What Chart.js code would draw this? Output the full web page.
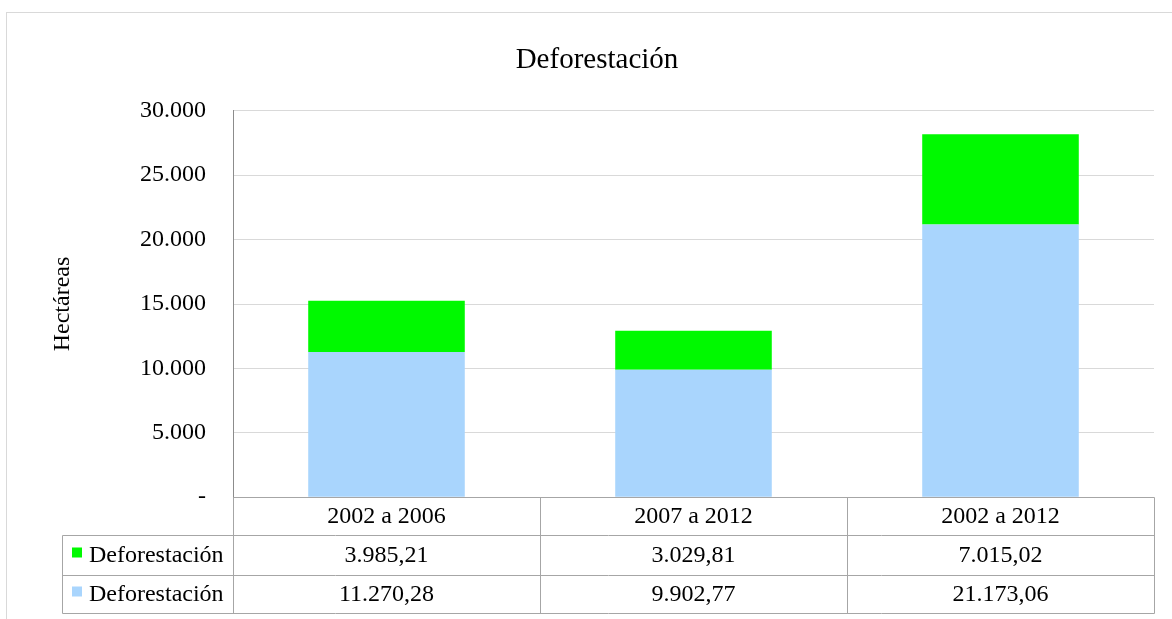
<!DOCTYPE html>
<html>
<head>
<meta charset="utf-8">
<script src="https://cdn.jsdelivr.net/npm/chart.js"></script>
<style>
  body { margin: 0; background: #fff; }
  canvas { display: block; }
</style>
</head>
<body>
<canvas id="deforestChart" width="1172" height="619"></canvas>
<script>
const periods = ["2002 a 2006", "2007 a 2012", "2002 a 2012"];
const seriesName = "Deforestación";
const blueValues = [11270.28, 9902.77, 21173.06];
const greenValues = [3985.21, 3029.81, 7015.02];
const yTicks = [0, 5000, 10000, 15000, 20000, 25000, 30000];

const serif = "'Liberation Serif', 'Times New Roman', serif";
const blue = "#a9d5fd";
const green = "#00f900";

// thousands with "." and decimals with ","
function fmt(v, dec) {
  const parts = v.toFixed(dec).split(".");
  parts[0] = parts[0].replace(/\B(?=(\d{3})+(?!\d))/g, ".");
  return parts.join(",");
}

// draws the frame and the Excel-like data table under the plot
const tablePlugin = {
  id: "dataTable",
  beforeDraw(chart) {
    const ctx = chart.ctx;
    ctx.save();
    ctx.fillStyle = "#fff";
    ctx.fillRect(0, 0, chart.width, chart.height);
    ctx.strokeStyle = "#d9d9d9";
    ctx.lineWidth = 1;
    ctx.strokeRect(6.5, 12.5, 1400, 800);
    ctx.restore();
  },
  afterDraw(chart) {
    const ctx = chart.ctx;
    const x = chart.scales.x;
    const area = chart.chartArea;
    const n = periods.length;
    const half = (area.right - area.left) / n / 2;
    const top = Math.round(area.bottom) + 0.5;
    const rows = [top, top + 38, top + 78, top + 116];
    const legendLeft = 62.5;
    const left = Math.round(area.left) + 0.5;
    const right = Math.round(area.right) + 0.5;

    ctx.save();
    ctx.strokeStyle = "#a6a6a6";
    ctx.lineWidth = 1;
    ctx.beginPath();
    ctx.moveTo(left, rows[0]); ctx.lineTo(right, rows[0]);
    for (let r = 1; r < rows.length; r++) {
      ctx.moveTo(legendLeft, rows[r]); ctx.lineTo(right, rows[r]);
    }
    ctx.moveTo(legendLeft, rows[1]); ctx.lineTo(legendLeft, rows[3]);
    for (let i = 0; i < n; i++) {
      const b = Math.round(x.getPixelForTick(i) - half) + 0.5;
      ctx.moveTo(b, rows[0]); ctx.lineTo(b, rows[3]);
    }
    ctx.moveTo(right, rows[0]); ctx.lineTo(right, rows[3]);
    ctx.stroke();

    const tableRows = [
      { color: green, values: greenValues },
      { color: blue, values: blueValues }
    ];
    ctx.font = "24px " + serif;
    ctx.textBaseline = "middle";
    tableRows.forEach((row, r) => {
      const cy = (rows[r + 1] + rows[r + 2]) / 2;
      ctx.fillStyle = row.color;
      ctx.fillRect(72, cy - 8, 10, 10);
      ctx.fillStyle = "#000";
      ctx.textAlign = "left";
      ctx.fillText(seriesName, 89, cy);
      ctx.textAlign = "center";
      row.values.forEach((v, i) => {
        ctx.fillText(fmt(v, 2), x.getPixelForTick(i), cy);
      });
    });
    ctx.restore();
  }
};

new Chart(document.getElementById("deforestChart"), {
  type: "bar",
  data: {
    labels: periods,
    datasets: [
      {
        label: seriesName,
        data: blueValues,
        backgroundColor: blue,
        barPercentage: 0.51,
        categoryPercentage: 1
      },
      {
        label: seriesName,
        data: greenValues,
        backgroundColor: green,
        barPercentage: 0.51,
        categoryPercentage: 1
      }
    ]
  },
  options: {
    responsive: false,
    animation: false,
    layout: { padding: { left: 40, right: 18, top: 0, bottom: 83 } },
    plugins: {
      legend: { display: false },
      tooltip: { enabled: false },
      title: {
        display: true,
        text: "Deforestación",
        color: "#000",
        font: { family: serif, size: 29, weight: "normal" },
        padding: { top: 43, bottom: 33 }
      }
    },
    scales: {
      x: {
        stacked: true,
        grid: { display: false, drawTicks: false },
        border: { display: false },
        ticks: { color: "#000", font: { family: serif, size: 24 }, padding: 5 }
      },
      y: {
        stacked: true,
        min: 0,
        max: 30000,
        afterFit(scale) { scale.width = 193; },
        afterBuildTicks(scale) { scale.ticks = yTicks.map(v => ({ value: v })); },
        grid: { color: "#d9d9d9", lineWidth: 1, drawTicks: false },
        border: { display: true, color: "#8c8c8c" },
        ticks: {
          color: "#000",
          font: { family: serif, size: 24 },
          padding: 27,
          callback: v => (v === 0 ? "-" : fmt(v, 0))
        },
        title: {
          display: true,
          text: "Hectáreas",
          color: "#000",
          font: { family: serif, size: 24 },
          padding: { top: 8 }
        }
      }
    }
  },
  plugins: [tablePlugin]
});
</script>
</body>
</html>
